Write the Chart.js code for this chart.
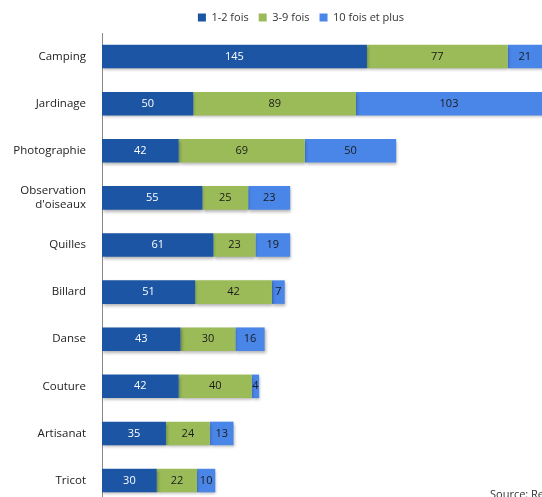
<!DOCTYPE html>
<html>
<head>
<meta charset="utf-8">
<script src="https://cdn.jsdelivr.net/npm/chart.js@4/dist/chart.umd.min.js"></script>
<style>
  html, body { margin: 0; padding: 0; overflow: hidden; background: #fff; width: 542px; height: 497px; }
  #wrap { position: absolute; left: 0; top: 0; width: 542px; height: 527px; }
  #source { position: absolute; left: 490px; top: 486px; font: 11px "Open Sans", sans-serif; color: #333; white-space: nowrap; }
</style>
</head>
<body>
<div id="wrap"><canvas id="myChart" width="542" height="527"></canvas></div>
<div id="source">Source: Recensement</div>
<script>
const categories = ["Camping", "Jardinage", "Photographie", ["Observation", "d'oiseaux"], "Quilles", "Billard", "Danse", "Couture", "Artisanat", "Tricot"];
const seriesNames = ["1-2 fois", "3-9 fois", "10 fois et plus"];
const fois1a2 = [145, 50, 42, 55, 61, 51, 43, 42, 35, 30];
const fois3a9 = [77, 89, 69, 25, 23, 42, 30, 40, 24, 22];
const fois10plus = [21, 103, 50, 23, 19, 7, 16, 4, 13, 10];
const colors = ["#1B55A3", "#9BBB59", "#4A86E8"];
const labelColors = ["#ffffff", "#1a1a1a", "#1a1a1a"];

// draws the value in the middle of each visible segment
const barLabels = {
    id: "barLabels",
    afterDatasetsDraw(chart) {
        const ctx = chart.ctx;
        const area = chart.chartArea;
        ctx.save();
        ctx.font = "11px 'Open Sans', sans-serif";
        ctx.textAlign = "center";
        ctx.textBaseline = "middle";
        chart.data.datasets.forEach((ds, i) => {
            chart.getDatasetMeta(i).data.forEach((bar, j) => {
                const left = Math.max(area.left, Math.min(bar.base, bar.x));
                const right = Math.min(area.right, Math.max(bar.base, bar.x));
                ctx.fillStyle = labelColors[i];
                ctx.fillText(ds.data[j], (left + right) / 2, bar.y);
            });
        });
        ctx.restore();
    }
};

// soft shadow under the bars
const barShadow = {
    id: "barShadow",
    beforeDatasetDraw(chart) {
        const ctx = chart.ctx;
        ctx.save();
        ctx.shadowColor = "rgba(0,0,0,0.3)";
        ctx.shadowBlur = 3;
        ctx.shadowOffsetX = 1;
        ctx.shadowOffsetY = 2;
    },
    afterDatasetDraw(chart) {
        chart.ctx.restore();
    }
};

// the legend sits a bit right of the canvas centre in the original
const legendShift = {
    id: "legendShift",
    afterLayout(chart) {
        chart.legend.left += 30;
        chart.legend.right += 30;
    }
};

new Chart("myChart", {
    type: "bar",
    data: {
        labels: categories,
        datasets: [
            { label: seriesNames[0], data: fois1a2, backgroundColor: colors[0] },
            { label: seriesNames[1], data: fois3a9, backgroundColor: colors[1] },
            { label: seriesNames[2], data: fois10plus, backgroundColor: colors[2] }
        ]
    },
    plugins: [barShadow, barLabels, legendShift],
    options: {
        indexAxis: "y",
        responsive: false,
        animation: false,
        barPercentage: 0.5,
        categoryPercentage: 1,
        layout: { padding: { top: 2, right: 0, bottom: 0, left: 0 } },
        plugins: {
            legend: {
                position: "top",
                labels: {
                    boxWidth: 8,
                    boxHeight: 8,
                    padding: 10,
                    color: "#333",
                    font: { family: "'Open Sans', sans-serif", size: 11 }
                }
            },
            tooltip: { enabled: false }
        },
        scales: {
            x: {
                stacked: true,
                display: false,
                min: 0,
                max: 240.8
            },
            y: {
                stacked: true,
                grid: { display: false, drawTicks: false },
                border: { display: true, color: "#888", width: 1 },
                ticks: {
                    padding: 16,
                    color: "#222",
                    font: { family: "'Open Sans', sans-serif", size: 11.5 }
                },
                afterFit(scale) { scale.width = 102; }
            }
        }
    }
});
</script>
</body>
</html>
